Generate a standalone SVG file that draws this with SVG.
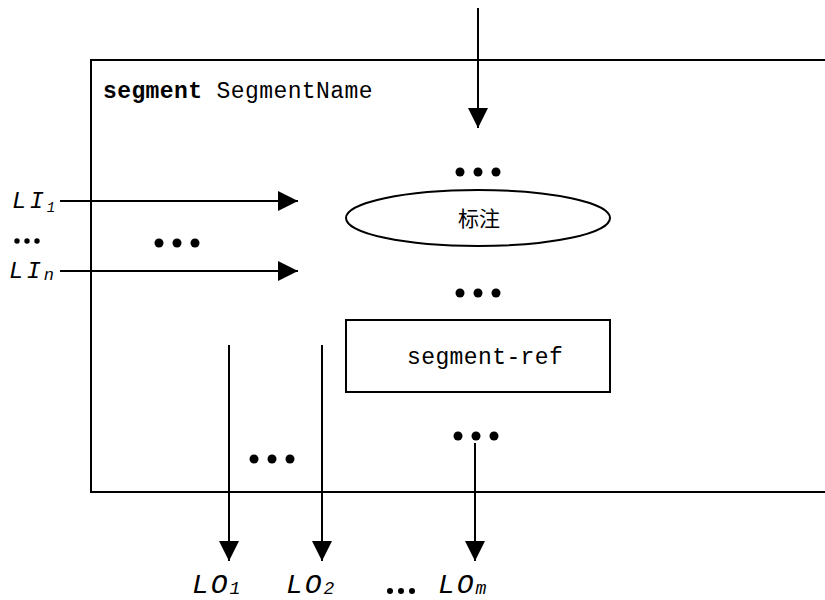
<svg xmlns="http://www.w3.org/2000/svg" width="825" height="600" viewBox="0 0 825 600">
  <style>
    .ln { stroke: #000; stroke-width: 2; fill: none; }
    .mono { font-family: "Liberation Mono", "Courier New", monospace; fill: #000; }
    .body { font-size: 23px; letter-spacing: 0.4px; }
    .li { font-style: italic; font-size: 24px; letter-spacing: 3px; }
    .lo { font-style: italic; font-size: 28px; letter-spacing: 2px; }
    .sub { letter-spacing: 0; }
    .dot { fill: #000; }
  </style>
  <defs>
    <marker id="head" viewBox="0 0 20 20" refX="20" refY="10" markerWidth="20" markerHeight="20" markerUnits="userSpaceOnUse" orient="auto">
      <path d="M0,0 L20,10 L0,20 Z" fill="#000"/>
    </marker>
    <g id="dots3">
      <circle cx="0" cy="0" r="4.5"/>
      <circle cx="18" cy="0" r="4.5"/>
      <circle cx="36" cy="0" r="4.5"/>
    </g>
  </defs>
  <rect width="825" height="600" fill="#fff"/>

  <!-- segment frame (open on the right) -->
  <g id="frame">
    <path class="ln" d="M826,60 H91 V492 H826"/>
    <text class="mono body" x="103" y="98"><tspan font-weight="bold">segment</tspan> SegmentName</text>
  </g>

  <g id="annotation">
    <ellipse class="ln" cx="478" cy="218" rx="132" ry="28"/>
    <text x="479" y="226" text-anchor="middle" font-size="21" font-family="'Noto Sans CJK SC', sans-serif">标注</text>
  </g>

  <g id="segment-ref">
    <rect class="ln" x="346" y="320" width="264" height="72"/>
    <text class="mono body" x="407" y="364">segment-ref</text>
  </g>

  <!-- ellipsis markers -->
  <g id="ellipses" class="dot">
    <use href="#dots3" x="460" y="172"/>
    <use href="#dots3" x="460" y="293"/>
    <use href="#dots3" x="458" y="436"/>
    <use href="#dots3" x="159" y="243"/>
    <use href="#dots3" x="254" y="459"/>
    <circle cx="17" cy="241" r="2.7"/>
    <circle cx="27" cy="241" r="2.7"/>
    <circle cx="37" cy="241" r="2.7"/>
    <circle cx="390" cy="591" r="3"/>
    <circle cx="401" cy="591" r="3"/>
    <circle cx="412" cy="591" r="3"/>
  </g>

  <g id="connectors">
    <line class="ln" x1="478" y1="8" x2="478" y2="128" marker-end="url(#head)"/>
    <line class="ln" x1="60" y1="201" x2="298" y2="201" marker-end="url(#head)"/>
    <line class="ln" x1="60" y1="271" x2="298" y2="271" marker-end="url(#head)"/>
    <line class="ln" x1="229" y1="345" x2="229" y2="561" marker-end="url(#head)"/>
    <line class="ln" x1="322" y1="345" x2="322" y2="561" marker-end="url(#head)"/>
    <line class="ln" x1="475" y1="443" x2="475" y2="561" marker-end="url(#head)"/>
  </g>

  <!-- gate labels -->
  <g id="labels">
    <text class="mono li" x="12" y="208">LI<tspan class="sub" font-size="14" dy="4">1</tspan></text>
    <text class="mono li" x="9" y="278">LI<tspan class="sub" font-size="17" dy="2">n</tspan></text>
    <text class="mono lo" x="192" y="593">LO<tspan class="sub" font-size="18" dy="1">1</tspan></text>
    <text class="mono lo" x="286" y="593">LO<tspan class="sub" font-size="18" dy="1">2</tspan></text>
    <text class="mono lo" x="438" y="593">LO<tspan class="sub" font-size="18" dy="1">m</tspan></text>
  </g>
</svg>
